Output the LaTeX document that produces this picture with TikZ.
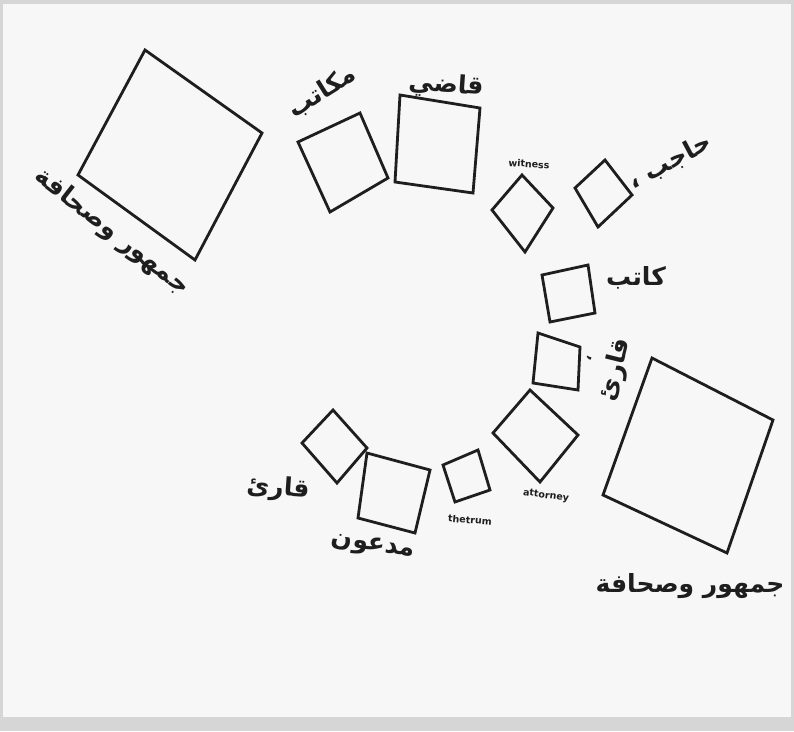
\documentclass[tikz,border=0pt]{standalone}
\usepackage{fontspec}
\newfontfamily\arabicfont[Script=Arabic]{DejaVu Sans}
\newfontfamily\latinfont{DejaVu Sans}
\TeXXeTstate=1
\definecolor{ink}{HTML}{1E1E1E}
\definecolor{paper}{HTML}{F7F7F7}
\definecolor{edge}{HTML}{D6D6D6}
\begin{document}
\begin{tikzpicture}[x=1pt,y=-1pt,
  seat/.style={draw=ink,line width=2.8pt,line join=miter},
  artext/.style={text=ink,inner sep=0pt,font=\arabicfont\bfseries\fontsize{25}{28}\selectfont},
  entext/.style={text=ink,inner sep=0pt,font=\latinfont\bfseries\fontsize{9.5}{11}\selectfont}]
\useasboundingbox (0,0) rectangle (794,731);
\fill[edge] (0,0) rectangle (794,731);
\fill[paper] (3,4) rectangle (791,717);
% big squares
\draw[seat] (145,50) -- (262,133) -- (195,260) -- (78,175) -- cycle;
\draw[seat] (652,358) -- (773,420) -- (727,553) -- (603,495) -- cycle;
% top row
\draw[seat] (298,142) -- (360,113) -- (388,178) -- (330,212) -- cycle;
\draw[seat] (400,95) -- (480,108) -- (473,193) -- (395,182) -- cycle;
\draw[seat] (522,175) -- (553,208) -- (525,252) -- (492,210) -- cycle;
\draw[seat] (605,160) -- (632,195) -- (598,227) -- (575,188) -- cycle;
% right column
\draw[seat] (542,275) -- (588,265) -- (595,313) -- (550,322) -- cycle;
\draw[seat] (538,333) -- (580,347) -- (578,390) -- (533,383) -- cycle;
\draw[seat] (530,390) -- (578,435) -- (540,482) -- (493,433) -- cycle;
% bottom row
\draw[seat] (333,410) -- (367,448) -- (337,483) -- (302,443) -- cycle;
\draw[seat] (367,453) -- (430,470) -- (415,533) -- (358,518) -- cycle;
\draw[seat] (443,465) -- (478,450) -- (490,490) -- (455,502) -- cycle;
% labels
\node[artext,rotate=-38] (pub1) at (112,232) {\beginR جمهور وصحافة\endR};
\node[artext] (pub2) at (690,586) {\beginR جمهور وصحافة\endR};
\node[artext,rotate=32] (offices) at (322,92) {\beginR مكاتب\endR};
\node[artext,rotate=-4] (judge) at (446,86) {\beginR قاضي\endR};
\node[entext,rotate=-4] (witness) at (529,164) {witness};
\node[artext,rotate=28] (usher) at (670,162) {\beginR حاجب ،\endR};
\node[artext] (clerk) at (636,278) {\beginR كاتب\endR};
\node[artext,rotate=76] (reader1) at (616,370) {\beginR قارئ\endR};
\node[artext,font=\arabicfont\bfseries\fontsize{14}{16}\selectfont,rotate=76] (comma2) at (589,358) {\beginR ،\endR};
\node[entext,rotate=-8] (attorney) at (546,496) {attorney};
\node[artext,rotate=-4] (reader2) at (278,489) {\beginR قارئ\endR};
\node[artext,rotate=-8] (claim) at (373,547) {\beginR مدعون\endR};
\node[entext,rotate=-5] (rostrum) at (470,520) {thetrum};
\end{tikzpicture}
\end{document}
